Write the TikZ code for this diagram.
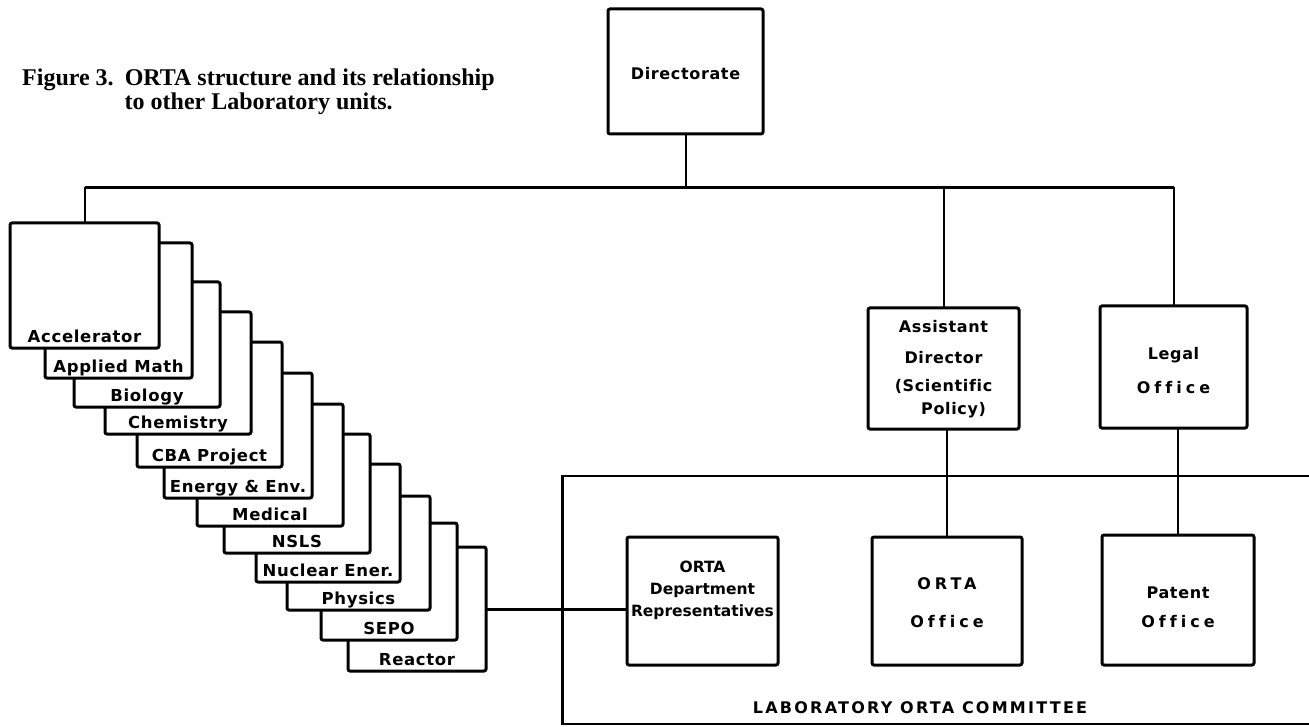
\documentclass[tikz,border=0pt]{standalone}
\usepackage{fontspec}
\setmainfont{Liberation Serif}
\newfontfamily\letfont[LetterSpace=4,Ligatures=NoCommon]{DejaVu Sans}
\newfontfamily\tightfont[Ligatures=NoCommon]{DejaVu Sans}
\newfontfamily\widefont[LetterSpace=25,Ligatures=NoCommon]{DejaVu Sans}
\newfontfamily\capsfont[LetterSpace=14,Ligatures=NoCommon]{DejaVu Sans}
\begin{document}
\begin{tikzpicture}[x=1pt,y=-1pt,
  unit/.style={draw, line width=3pt, fill=white, rounded corners=2pt, inner sep=0pt, outer sep=0pt},
  lbl/.style={font=\letfont\bfseries\fontsize{16.5}{18}\selectfont, inner sep=0pt},
  boxtxt/.style={font=\letfont\bfseries\fontsize{16}{24}\selectfont, inner sep=0pt, align=center},
  link/.style={line width=2pt},
  buswire/.style={line width=3pt},
  caption/.style={font=\bfseries\fontsize{24}{24}\selectfont, inner sep=0pt}
]
\useasboundingbox (0,0) rectangle (1309,727);

% caption
\node[caption, anchor=base west] (cap) at (22,86)
  {\begin{tabular}[t]{@{}l@{\hspace{11pt}}l@{}}Figure 3. & ORTA structure and its relationship\\ & to other Laboratory units.\end{tabular}};

% committee frame (open to the right)
\node[draw, line width=2.6pt, inner sep=0pt, anchor=north west,
      minimum width=780, minimum height=248] (committee) at (561,474.5) {};
\node[font=\capsfont\bfseries\fontsize{16}{18}\selectfont, inner sep=0pt] (cmtlabel) at (920,708)
  {LABORATORY ORTA COMMITTEE};

% stacked department boxes, back to front
\foreach \n/\t/\l/\tp/\r/\b in {
  12/Reactor/348/547/486/671,
  11/SEPO/321/523/457/640,
  10/Physics/287/496/430/610,
  9/Nuclear Ener./256/464/400/582,
  8/NSLS/224/434/370/553,
  7/Medical/197/404/343/526,
  6/Energy \& Env./164/373/312/498,
  5/CBA Project/137/342/282/467,
  4/Chemistry/105/312/251/434,
  3/Biology/74/282/220/407,
  2/Applied Math/45/243/192/378,
  1/Accelerator/10/223/159/348}
{
  \node[unit, minimum width={\r-\l}, minimum height={\b-\tp}] (s\n) at ({(\l+\r)/2},{(\tp+\b)/2}) {};
  \node[lbl, anchor=base] (t\n) at ([yshift=6pt]s\n.south) {\t};
}

% offices
\node[unit, minimum width=155, minimum height=125] (dir) at (685.5,71.5) {};
\node[unit, minimum width=151, minimum height=121] (ad) at (943.5,368.5) {};
\node[unit, minimum width=147, minimum height=122] (legal) at (1173.5,367) {};
\node[unit, minimum width=151, minimum height=128] (dept) at (702.5,601) {};
\node[unit, minimum width=150, minimum height=128] (office) at (947,601) {};
\node[unit, minimum width=152, minimum height=130] (patent) at (1178,600) {};

\node[boxtxt] (dirtxt) at ([yshift=-2pt]dir.center) {Directorate};
\node[boxtxt] (adtxt) at ([yshift=-1pt]ad.center)
  {Assistant\\[7pt]Director\\[4pt](Scientific\\[-1pt]\hspace*{20pt}Policy)};
\node[boxtxt] (legaltxt) at ([yshift=-4pt]legal.center) {Legal\\[10pt]{\widefont Office}};
\node[boxtxt, font=\tightfont\bfseries\fontsize{15.5}{22}\selectfont] (depttxt) at ([yshift=11pt]dept.center)
  {ORTA\\Department\\Representatives};
\node[boxtxt] (officetxt) at ([yshift=-2pt]office.center) {{\widefont ORTA}\\[14pt]{\widefont Office}};
\node[boxtxt] (patenttxt) at ([yshift=-7pt]patent.center) {Patent\\[5pt]{\widefont Office}};

% connectors
\coordinate (bus) at (0,187.5);
\draw[link] (dir.south) -- (dir.south |- bus);
\draw[link] (s1.north) -- (s1.north |- bus);
\draw[link] (ad.north) -- (ad.north |- bus);
\draw[link] (legal.north) -- (legal.north |- bus);
\draw[buswire] (s1.north |- bus) -- (legal.north |- bus);
\draw[link] (office.north) -- (office.north |- ad.south);
\draw[link] (patent.north) -- (patent.north |- legal.south);
\draw[buswire] (s12.east) -- (s12.east -| dept.west);
\end{tikzpicture}
\end{document}
